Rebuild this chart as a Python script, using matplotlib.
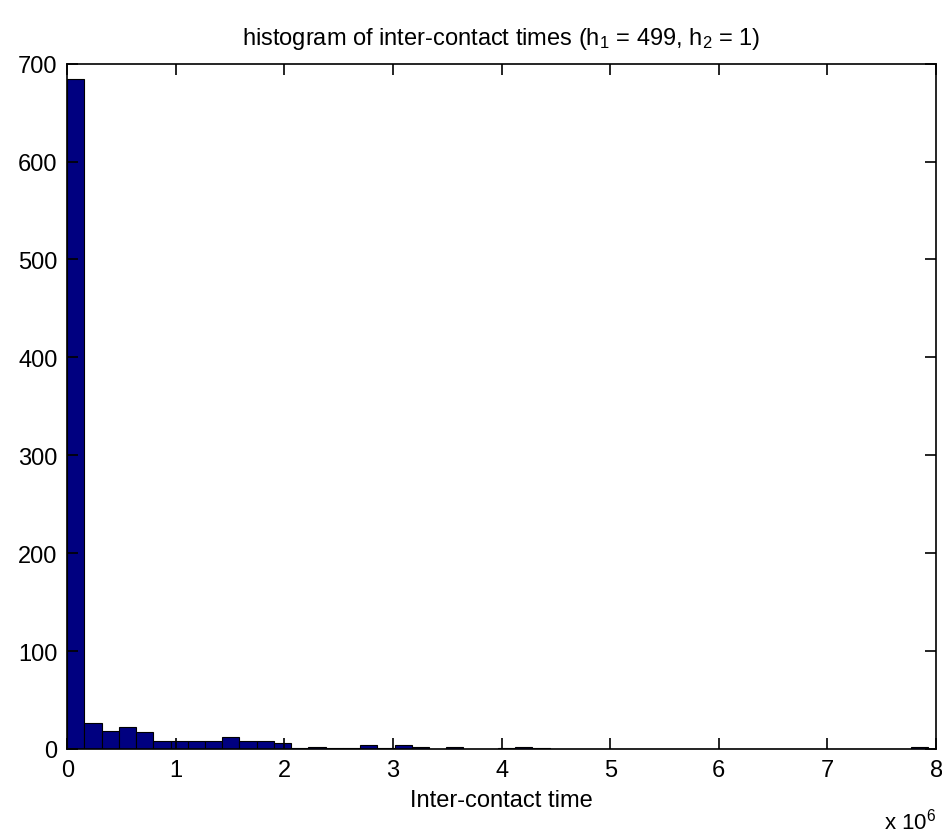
import numpy as np
import matplotlib
matplotlib.use('Agg')
import matplotlib.pyplot as plt

# histogram counts, 50 equal bins from 0 to x_max
x_max = 7.93e6
counts = [684, 26, 18, 22, 17, 8, 8, 8, 8, 12,
          8, 8, 6, 1, 2, 1, 1, 4, 1, 4,
          2, 0, 2, 0, 0, 1, 2, 1, 0, 0,
          0, 0, 0, 0, 0, 0, 0, 0, 0, 0,
          0, 0, 0, 0, 0, 0, 0, 0, 0, 2]
x_ticks = [0, 1, 2, 3, 4, 5, 6, 7, 8]
y_ticks = [0, 100, 200, 300, 400, 500, 600, 700]

plt.rcParams['font.family'] = ['Liberation Sans', 'DejaVu Sans']
plt.rcParams['mathtext.default'] = 'regular'

edges = np.linspace(0, x_max, len(counts) + 1)

fig = plt.figure(figsize=(9.42, 8.37), dpi=100)
ax = fig.add_axes([0.0714, 0.104, 0.9223, 0.8187])
ax.bar(edges[:-1], counts, width=np.diff(edges), align='edge',
       color='#000080', edgecolor='black', linewidth=0.8)

ax.set_xlim(0, 8e6)
ax.set_ylim(0, 700)
ax.set_xticks([t * 1e6 for t in x_ticks])
ax.set_xticklabels([str(t) for t in x_ticks])
ax.set_yticks(y_ticks)
ax.tick_params(direction='in', top=True, right=True, length=8, width=1.2,
               labelsize=17, pad=7)
for s in ax.spines.values():
    s.set_linewidth(1.2)

ax.set_xlabel('Inter-contact time', fontsize=17, labelpad=6)
ax.set_title('histogram of inter-contact times (h$_1$ = 499, h$_2$ = 1)',
             fontsize=17, pad=14)
ax.text(1.0, -0.105, r'x 10$^6$', transform=ax.transAxes, fontsize=16,
        ha='right', va='center')

plt.savefig('out.png', dpi=100)
